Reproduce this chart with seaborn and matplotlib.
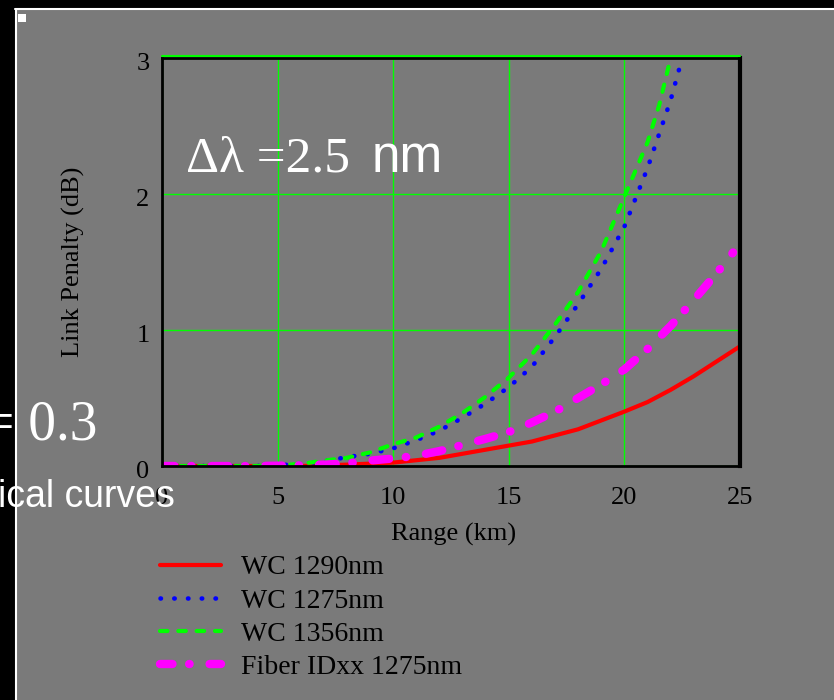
import matplotlib
matplotlib.use("Agg")
import matplotlib.pyplot as plt
import matplotlib.transforms as mtransforms
import seaborn as sns
import pandas as pd
from matplotlib.patches import Rectangle
from matplotlib.lines import Line2D

# ---- data ----
x_red = [0, 2, 4, 6, 8, 10, 12, 14, 16, 18, 20, 21, 22, 23, 24, 25]
y_red = [0, 0, 0, 0, 0.01, 0.025, 0.06, 0.12, 0.18, 0.27, 0.40, 0.47, 0.56, 0.66, 0.77, 0.88]

x_blue = [0, 2, 4, 5, 6, 7, 8, 9, 10, 11, 12, 13, 14, 15, 16, 17, 18, 19, 20, 21, 22, 22.5]
y_blue = [0, 0, 0, 0.005, 0.015, 0.035, 0.065, 0.09, 0.13, 0.19, 0.26, 0.355, 0.46, 0.58, 0.73, 0.95,
          1.19, 1.45, 1.76, 2.19, 2.69, 3.0]

x_green = [0, 2, 4, 5, 6, 7, 8, 9, 10, 11, 12, 13, 14, 15, 16, 17, 18, 19, 20, 21, 21.5, 22]
y_green = [0, 0, 0, 0.005, 0.015, 0.04, 0.06, 0.10, 0.16, 0.21, 0.29, 0.39, 0.51, 0.65, 0.82, 1.04,
           1.28, 1.58, 1.98, 2.38, 2.65, 3.0]

x_mag = [0, 2, 4, 6, 7, 8, 9, 10, 11, 12, 13, 14, 15, 16, 17, 18, 19, 20, 21, 22, 23, 24, 24.7]
y_mag = [0, 0, 0, 0.005, 0.01, 0.02, 0.04, 0.055, 0.075, 0.11, 0.155, 0.20, 0.25, 0.32, 0.40, 0.50,
         0.60, 0.71, 0.86, 1.03, 1.22, 1.42, 1.57]

labels = ["WC 1290nm", "WC 1275nm", "WC 1356nm", "Fiber IDxx 1275nm"]
x_ticks = [0, 5, 10, 15, 20, 25]
y_ticks = [0, 1, 2, 3]

GRAY = "#7a7a7a"
W, H = 834, 700

sns.set_theme(style="white")
plt.rcParams["font.family"] = ["Liberation Serif", "DejaVu Serif"]

fig = plt.figure(figsize=(W / 100, H / 100), dpi=100, facecolor="black")

def fx(px):
    return px / W

def fy(py):
    return 1 - py / H

# gray panel with white border lines (behind everything)
fig.patches.append(Rectangle((fx(16), 0), 1 - fx(16), fy(10), transform=fig.transFigure,
                             facecolor=GRAY, edgecolor="none", zorder=-10))
fig.add_artist(Line2D([fx(15), 1], [fy(9), fy(9)], color="white", lw=1.5,
                      transform=fig.transFigure, zorder=-9))
fig.add_artist(Line2D([fx(15.5), fx(15.5)], [0, fy(9)], color="white", lw=1.5,
                      transform=fig.transFigure, zorder=-9))
fig.patches.append(Rectangle((fx(18), fy(22)), fx(8), 8 / H, transform=fig.transFigure,
                             facecolor="white", edgecolor="none", zorder=-9))

ax = fig.add_axes([fx(162), fy(466), fx(740) - fx(162), (466 - 58) / H])
ax.set_facecolor(GRAY)

sns.lineplot(x=x_red, y=y_red, ax=ax, color="#ff0000", linewidth=3.0, label=labels[0],
             solid_capstyle="round")
sns.lineplot(x=x_blue, y=y_blue, ax=ax, color="#0000ff", linewidth=3.3, label=labels[1],
             linestyle=(0, (0.1, 2.9)), dash_capstyle="round")
sns.lineplot(x=x_green, y=y_green, ax=ax, color="#00ff00", linewidth=3.0, label=labels[2],
             linestyle=(0, (1.8, 2.6)), dash_capstyle="round")
sns.lineplot(x=x_mag, y=y_mag, ax=ax, color="#ff00ff", linewidth=6.0, label=labels[3],
             linestyle=(0.5, (2.0, 2.0, 0.05, 2.4)), dash_capstyle="round")

ax.set_xlim(0, 25)
ax.set_ylim(0, 3)
ax.set_xticks(x_ticks)
ax.set_yticks(y_ticks)
ax.set_xticklabels([str(v) for v in x_ticks])
ax.set_yticklabels([str(v) for v in y_ticks])
ax.tick_params(axis="both", length=0, labelsize=19, colors="black")
ax.tick_params(axis="x", pad=15)
ax.tick_params(axis="y", pad=9)
offset = mtransforms.ScaledTranslation(0, -4 / 100, fig.dpi_scale_trans)
for lab in ax.get_yticklabels():
    lab.set_transform(lab.get_transform() + offset)
ax.grid(True, color="#00ff00", linewidth=1.0)
ax.axhline(3.012, color="#00ff00", lw=1.5, clip_on=False, zorder=5)

for side, lw in [("left", 2.0), ("bottom", 2.0), ("right", 3.0), ("top", 2.0)]:
    ax.spines[side].set_visible(True)
    ax.spines[side].set_color("black")
    ax.spines[side].set_linewidth(lw)

ax.set_xlabel("Range (km)", fontsize=19, color="black")
ax.set_ylabel("Link Penalty (dB)", fontsize=19, color="black")
ax.xaxis.set_label_coords((454 - 162) / 578, (466 - 534) / 408)
ax.xaxis.label.set_verticalalignment("center")
ax.yaxis.set_label_coords((73 - 162) / 578, 0.5)
ax.yaxis.label.set_verticalalignment("center")

handles, labs = ax.get_legend_handles_labels()
ax.legend_.remove()
fig.legend(handles, labs, loc="upper left", bbox_to_anchor=(fx(160), fy(555)),
           frameon=False, fontsize=20, handlelength=2.2, handletextpad=0.7,
           labelspacing=0.28, borderpad=0, borderaxespad=0, labelcolor="black")

# annotations
fig.text(fx(186), fy(172), "Δλ =2.5", fontsize=37, color="white", va="baseline", ha="left",
         family=["Liberation Serif", "DejaVu Serif"])
fig.text(fx(372), fy(172), "nm", fontsize=37, color="white", va="baseline", ha="left",
         family=["Liberation Sans", "DejaVu Sans"])
fig.text(fx(97), fy(439), "= 0.3", fontsize=40, color="white", va="baseline", ha="right",
         family=["Liberation Serif", "DejaVu Serif"], zorder=10)
fig.text(fx(175), fy(507), "ical curves", fontsize=27, color="white", va="baseline", ha="right",
         family=["Liberation Sans", "DejaVu Sans"], zorder=10)

fig.savefig("out.png", dpi=100, facecolor=fig.get_facecolor())
